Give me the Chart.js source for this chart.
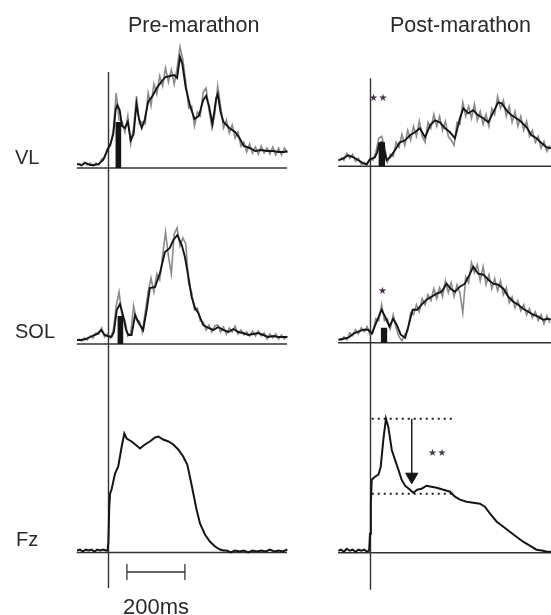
<!DOCTYPE html>
<html>
<head>
<meta charset="utf-8">
<script src="https://cdn.jsdelivr.net/npm/chart.js@4.4.0/dist/chart.umd.min.js"></script>
<style>
  body { margin: 0; background: #fff; }
  #wrap { position: relative; width: 551px; height: 615px; overflow: hidden; font-family: 'Liberation Sans', Arial, sans-serif; color: #2a2a2a; }
  #wrap canvas { position: absolute; left: 0; top: 0; }
  .lbl { position: absolute; line-height: 1; white-space: nowrap; }
  .star { position: absolute; font-family: 'DejaVu Sans', sans-serif; font-size: 10px; line-height: 1; letter-spacing: 0.5px; color: #4a2d4e; white-space: nowrap; }
</style>
</head>
<body>
<div id="wrap">
  <canvas id="fig" width="551" height="615"></canvas>
  <div class="lbl" style="left:128px;top:15px;font-size:21.5px">Pre-marathon</div>
  <div class="lbl" style="left:390px;top:15px;font-size:21.5px">Post-marathon</div>
  <div class="lbl" style="left:15px;top:147px;font-size:20px">VL</div>
  <div class="lbl" style="left:15px;top:321px;font-size:20px">SOL</div>
  <div class="lbl" style="left:16px;top:529px;font-size:20px">Fz</div>
  <div class="lbl" style="left:123px;top:596px;font-size:22px">200ms</div>
  <div class="star" style="left:369px;top:93px">★★</div>
  <div class="star" style="left:378px;top:286px">★</div>
  <div class="star" style="left:428px;top:448px;color:#3d3d52">★★</div>
</div>
<script>
// time in ms relative to foot contact, amplitude in arbitrary units above baseline

// raw (unfiltered) EMG sample times
const T10 = [-100,-90,-80,-70,-60,-50,-40,-30,-20,-10,0,10,20,30,40,50,60,70,80,90,100,110,120,130,140,150,160,170,180,190,200,210,220,230,240,250,260,270,280,290,300,310,320,330,340,350,360,370,380,390,400,410,420,430,440,450,460,470,480,490,500,510,520,530,540,550,560,570,580,590,600,610,620];

// VL pre-marathon
const tVLpre = [-105,-90,-75,-60,-45,-30,-15,0,10,20,28,34,42,50,60,70,80,90,100,108,118,128,140,155,170,185,200,215,230,240,250,258,270,285,300,315,330,340,350,362,375,380,390,400,420,440,455,470,490,510,530,550,570,590,610,620];
const smVLpre = [4,3,5,3,3,4,8,18,24,34,58,63,58,42,40,46,28,34,64,50,40,48,66,72,80,86,91,92,93,90,111,104,80,62,49,52,68,72,62,44,70,74,56,46,40,36,30,22,20,17,18,17,17,16,16,17];
const rawVLpre = [5,2,6,3,5,2,5,3,9,10,20,22,38,75,48,47,36,52,24,40,72,44,46,44,75,62,84,74,92,82,100,86,98,84,100,121,108,86,60,62,42,56,52,76,80,58,40,54,82,62,40,48,35,43,30,36,22,26,16,24,15,21,14,22,15,20,14,21,13,20,13,20,15];

// VL post-marathon
const tVLpost = [-109,-92,-75,-57,-40,-23,-12,0,17,25,32,40,46,57,69,86,103,121,138,155,172,190,207,224,241,259,276,293,310,322,339,356,373,391,408,425,442,454,471,488,505,523,540,557,574,592,609,624];
const smVLpost = [6,8,11,9,6,3,2,7,9,14,23,24,21,6,9,16,24,26,31,34,38,29,41,46,44,38,34,28,48,58,53,56,51,48,44,54,64,63,56,51,48,44,39,31,28,23,19,18];
const rawVLpost = [9,6,13,8,12,5,8,2,4,1,8,6,14,28,30,20,4,12,10,24,19,32,21,36,26,40,30,45,30,24,44,38,52,40,50,36,45,30,26,21,44,42,64,50,60,48,62,46,55,42,52,40,58,52,70,58,66,50,60,44,55,40,50,36,45,30,36,24,30,18,25,15,21];

// SOL pre-marathon
const tSOLpre = [-105,-90,-75,-60,-45,-35,-22,-10,0,14,22,32,43,55,64,72,83,95,106,123,135,146,164,181,198,215,227,241,256,267,279,290,302,313,330,348,365,382,399,417,434,451,468,486,503,520,537,554,572,589,606,620];
const smSOLpre = [4,4,5,7,9,10,14,9,8,7,12,34,40,27,14,9,9,29,22,14,34,56,57,71,92,96,104,109,99,87,67,47,36,31,19,16,14,17,14,12,15,12,11,9,10,11,9,7,8,7,7,7];
const rawSOLpre = [5,3,6,4,8,6,11,10,16,7,10,6,14,38,52,28,24,8,11,38,24,23,12,32,52,66,52,70,64,88,112,88,70,110,116,98,106,100,60,52,34,36,23,22,14,19,12,18,19,12,17,10,16,12,18,10,14,9,12,8,13,8,13,8,11,5,10,6,10,5,9,5,8];

// SOL post-marathon
const tSOLpost = [-109,-92,-75,-57,-40,-23,-6,6,23,40,52,67,80,92,106,121,132,147,163,178,195,212,230,247,264,278,293,310,327,345,356,373,391,408,425,442,460,477,494,511,528,546,563,580,597,615,624];
const smSOLpost = [3,4,5,9,11,13,13,9,21,33,26,16,24,18,8,5,16,33,33,38,43,46,49,51,59,54,51,56,59,69,76,69,68,63,59,58,54,46,41,38,34,31,28,26,23,24,23];
const rawSOLpost = [2,6,3,10,7,13,9,15,11,16,8,10,24,22,38,22,24,14,28,15,6,2,8,12,30,28,38,31,44,38,48,42,54,44,55,46,62,50,60,46,58,50,30,66,60,80,70,78,62,76,58,68,54,64,52,62,48,55,40,46,35,42,32,38,28,34,25,31,22,28,19,27,20];

// vertical ground reaction force
const tFzPre = [-105,-95,-85,-75,-65,-55,-45,-35,-25,-15,-5,0,3,6,9,14,26,37,49,58,66,83,100,112,129,146,164,175,192,210,227,244,261,275,284,296,307,319,336,353,371,388,400,411,425,440,455,470,485,500,515,530,545,560,575,590,605,620];
const fzPre = [2,3,1,3,2,3,1,3,2,3,2,2,10,45,59,63,79,86,106,119,114,111,107,104,108,111,115,116,113,111,108,103,96,88,76,59,43,29,18,11,6,3,2,2,0,2,1,2,0,2,1,2,1,3,1,2,1,3];
const tFzPost = [-109,-100,-90,-80,-70,-60,-50,-40,-30,-20,-10,-3,0,3,6,17,29,37,46,55,63,75,86,98,109,121,138,149,163,178,195,212,230,253,276,293,310,333,356,379,396,414,437,460,482,505,528,551,574,597,610,624];
const fzPost = [2,3,1,4,2,3,1,3,2,3,1,2,19,50,73,76,78,86,113,134,126,103,93,83,73,67,63,60,63,64,67,66,65,63,61,56,53,51,50,49,46,39,31,26,21,16,11,7,3,2,1,1];

// analysis windows (shaded), [start, end] ms and mean level
const winVLpre = [27, 48];   const lvlVLpre = 46;
const winVLpost = [29, 52];  const lvlVLpost = 24;
const winSOLpre = [34, 55];  const lvlSOLpre = 28;
const winSOLpost = [37, 60]; const lvlSOLpost = 15;

// Fz impact peak and following dip (post)
const fzPeakLevel = 134;
const fzDipLevel = 59;
const fzRefSpan = [6, 293];
const arrowTime = 144;
const arrowEnd = 76;

// time scale bar
const scaleBar = [67, 267];

// ---- layout ----
const W = 551, H = 615;
const PX_PER_MS = 58 / 200;
const ONSET = { pre: 107.5, post: 370 };
const BASE = { VLpre: 168, VLpost: 166.3, SOLpre: 344, SOLpost: 342.7, FzPre: 552.5, FzPost: 552.7 };

function xScale(onsetPx) {
  return { type: 'linear', display: false, min: -onsetPx / PX_PER_MS, max: (W - onsetPx) / PX_PER_MS };
}
function yScale(basePx) {
  return { type: 'linear', display: false, min: -(H - basePx), max: basePx };
}

const pts = (t, a) => t.map((x, i) => ({ x: x, y: a[i] }));

function line(xid, yid, data, color, width, order, extra) {
  return Object.assign({
    type: 'line', data: data, xAxisID: xid, yAxisID: yid,
    borderColor: color, borderWidth: width, pointRadius: 0, tension: 0, fill: false, order: order
  }, extra || {});
}

const datasets = [];
function emgPanel(xid, yid, t, sm, raw, win, lvl, axStart, axEnd) {
  datasets.push(line(xid, yid, pts([axStart, axEnd], [0, 0]), '#333', 1.4, 5));
  datasets.push(line(xid, yid, pts(T10, raw), 'rgba(125,125,125,0.9)', 1.6, 4));
  datasets.push(line(xid, yid, pts(win, [lvl, lvl]), '#151515', 0, 3, { fill: 'origin', backgroundColor: '#151515' }));
  datasets.push(line(xid, yid, pts(t, sm), '#151515', 1.9, 1));
}

emgPanel('xPre', 'yVLpre', tVLpre, smVLpre, rawVLpre, winVLpre, lvlVLpre, -106, 619);
emgPanel('xPost', 'yVLpost', tVLpost, smVLpost, rawVLpost, winVLpost, lvlVLpost, -110, 640);
emgPanel('xPre', 'ySOLpre', tSOLpre, smSOLpre, rawSOLpre, winSOLpre, lvlSOLpre, -106, 619);
emgPanel('xPost', 'ySOLpost', tSOLpost, smSOLpost, rawSOLpost, winSOLpost, lvlSOLpost, -110, 640);

// Fz panels
datasets.push(line('xPre', 'yFzPre', pts([-106, 619], [0, 0]), '#333', 1.4, 5));
datasets.push(line('xPre', 'yFzPre', pts(tFzPre, fzPre), '#151515', 2, 1));
datasets.push(line('xPost', 'yFzPost', pts([-110, 640], [0, 0]), '#333', 1.4, 5));
datasets.push(line('xPost', 'yFzPost', pts(tFzPost, fzPost), '#151515', 2, 1));

// dotted peak / dip references and arrow
datasets.push(line('xPost', 'yFzPost', pts(fzRefSpan, [fzPeakLevel, fzPeakLevel]), '#222', 2, 2, { borderDash: [2, 4] }));
datasets.push(line('xPost', 'yFzPost', pts(fzRefSpan, [fzDipLevel, fzDipLevel]), '#222', 2, 2, { borderDash: [2, 4] }));
datasets.push(line('xPost', 'yFzPost', pts([arrowTime, arrowTime], [fzPeakLevel, arrowEnd]), '#151515', 1.4, 1, {
  pointRadius: [0, 7], pointStyle: 'triangle', rotation: 180,
  pointBackgroundColor: '#151515', pointBorderColor: '#151515', pointBorderWidth: 1
}));

// 200 ms scale bar
datasets.push(line('xPre', 'yFzPre', pts(scaleBar, [-19.5, -19.5]), '#333', 1.3, 1, {
  pointRadius: 8, pointStyle: 'line', rotation: 90, pointBorderColor: '#333', pointBorderWidth: 1.3
}));

// onset (foot contact) lines crossing all three rows
const onsetPlugin = {
  id: 'onsetLines',
  beforeDatasetsDraw(chart) {
    const s = chart.scales, ctx = chart.ctx;
    ctx.save();
    ctx.strokeStyle = '#333';
    ctx.lineWidth = 1.4;
    [['xPre', 'yVLpre', 'yFzPre', 96, -35.5], ['xPost', 'yVLpost', 'yFzPost', 88, -37]].forEach(function (c) {
      const x = Math.round(s[c[0]].getPixelForValue(0)) + 0.5;
      ctx.beginPath();
      ctx.moveTo(x, s[c[1]].getPixelForValue(c[3]));
      ctx.lineTo(x, s[c[2]].getPixelForValue(c[4]));
      ctx.stroke();
    });
    ctx.restore();
  }
};

new Chart(document.getElementById('fig'), {
  type: 'line',
  data: { datasets: datasets },
  options: {
    responsive: false,
    animation: false,
    events: [],
    layout: { padding: 0, autoPadding: false },
    plugins: { legend: { display: false }, tooltip: { enabled: false } },
    scales: {
      xPre: xScale(ONSET.pre),
      xPost: xScale(ONSET.post),
      yVLpre: yScale(BASE.VLpre),
      yVLpost: yScale(BASE.VLpost),
      ySOLpre: yScale(BASE.SOLpre),
      ySOLpost: yScale(BASE.SOLpost),
      yFzPre: yScale(BASE.FzPre),
      yFzPost: yScale(BASE.FzPost)
    }
  },
  plugins: [onsetPlugin]
});
</script>
</body>
</html>
